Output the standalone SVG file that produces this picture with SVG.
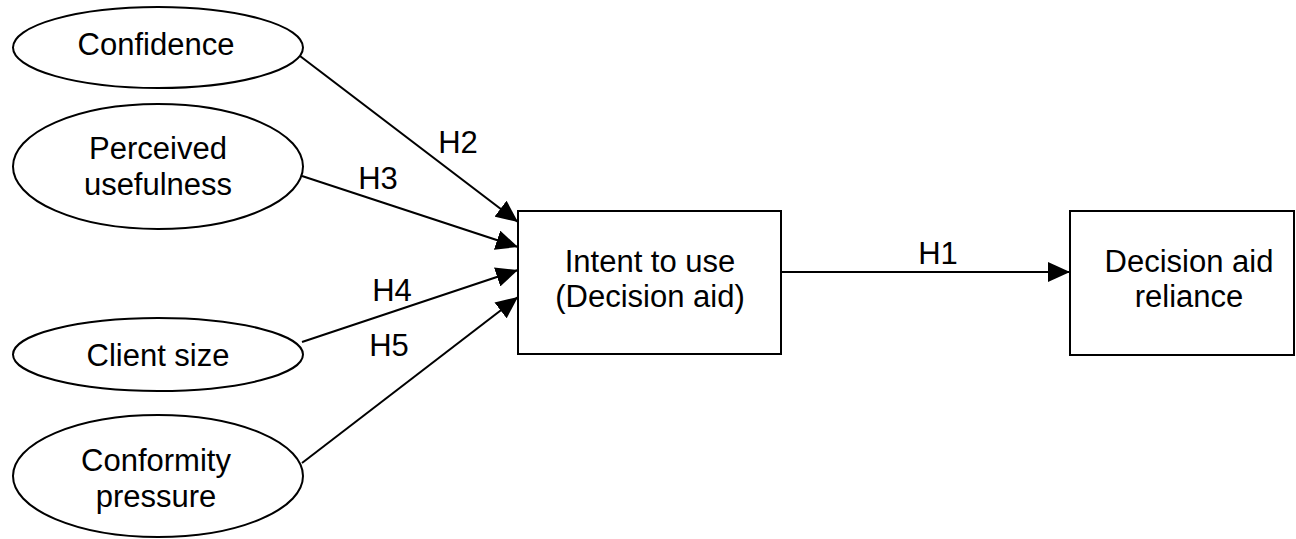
<svg xmlns="http://www.w3.org/2000/svg" width="1296" height="539" viewBox="0 0 1296 539">
  <style>
    .shape { fill: #ffffff; stroke: #000000; stroke-width: 2; }
    .edge { fill: none; stroke: #000000; stroke-width: 2; marker-end: url(#arrow); }
    text { font-family: "Liberation Sans", Arial, sans-serif; font-size: 31px; fill: #000000; text-anchor: middle; }
  </style>
  <defs>
    <marker id="arrow" markerUnits="userSpaceOnUse" markerWidth="22" markerHeight="20" refX="22" refY="10" orient="auto">
      <path d="M0,0 L22,10 L0,20 Z" fill="#000000"/>
    </marker>
  </defs>

  <rect width="1296" height="539" fill="#ffffff"/>

  <!-- connectors -->
  <g id="connectors">
    <line class="edge" x1="300" y1="56" x2="518" y2="222"/>
    <line class="edge" x1="302" y1="176" x2="518" y2="247"/>
    <line class="edge" x1="302" y1="342" x2="518" y2="270"/>
    <line class="edge" x1="302" y1="463" x2="518" y2="297"/>
    <line class="edge" x1="781" y1="272" x2="1070" y2="272"/>
    <text x="458" y="153">H2</text>
    <text x="378" y="189">H3</text>
    <text x="392" y="301">H4</text>
    <text x="389" y="356">H5</text>
    <text x="938" y="264">H1</text>
  </g>

  <!-- antecedent constructs -->
  <g id="confidence">
    <ellipse class="shape" cx="158" cy="47.5" rx="145" ry="40.5"/>
    <text x="156" y="55">Confidence</text>
  </g>
  <g id="perceived-usefulness">
    <ellipse class="shape" cx="158" cy="166.5" rx="145" ry="62.5"/>
    <text x="158" y="159">Perceived</text>
    <text x="158" y="195">usefulness</text>
  </g>
  <g id="client-size">
    <ellipse class="shape" cx="158" cy="354.5" rx="145" ry="36.5"/>
    <text x="158" y="366">Client size</text>
  </g>
  <g id="conformity-pressure">
    <ellipse class="shape" cx="158" cy="476" rx="145" ry="61"/>
    <text x="156" y="471">Conformity</text>
    <text x="156" y="507">pressure</text>
  </g>

  <!-- outcome constructs -->
  <g id="intent-to-use">
    <rect class="shape" x="518" y="211" width="263" height="143"/>
    <text x="650" y="272">Intent to use</text>
    <text x="650" y="307">(Decision aid)</text>
  </g>
  <g id="decision-aid-reliance">
    <rect class="shape" x="1070" y="211" width="224" height="144"/>
    <text x="1189" y="272">Decision aid</text>
    <text x="1189" y="307">reliance</text>
  </g>
</svg>
